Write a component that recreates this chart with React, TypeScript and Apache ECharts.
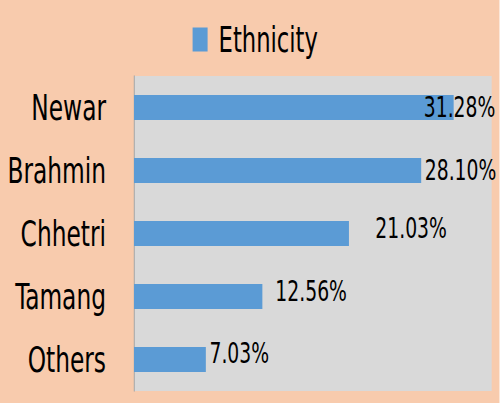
import React, { useEffect, useRef } from "react";
import * as echarts from "echarts";

const categories = ["Newar", "Brahmin", "Chhetri", "Tamang", "Others"];
const values = [31.28, 28.1, 21.03, 12.56, 7.03];
const seriesName = "Ethnicity";

// Narrow the whole drawing horizontally so the condensed look of the text matches.
const SX = 0.72;
const W = 500 / SX;
const H = 403;
const px = (x: number) => x / SX;

const labelOffsets: [number, number][] = [
  [px(-33.5), 0],
  [0, 0],
  [px(22.8), -5],
  [px(9.4), -5],
  [0, -6],
];

const FONT = "'DejaVu Sans Condensed', 'DejaVu Sans', sans-serif";

export default function App() {
  const ref = useRef<HTMLDivElement>(null);
  useEffect(() => {
    if (!ref.current) return;
    const chart = echarts.init(ref.current, undefined, { renderer: "svg" });
    chart.setOption({
      animation: false,
      backgroundColor: "#F8CBAD",
      legend: {
        data: [{ name: seriesName, icon: "rect" }],
        top: 17,
        left: px(189),
        itemWidth: px(15),
        itemHeight: 24,
        itemStyle: { borderWidth: 0 },
        textStyle: {
          fontFamily: FONT,
          fontSize: 35,
          color: "#000",
          padding: [0, 0, 0, px(11) - 5],
        },
      },
      grid: {
        left: px(134),
        right: px(8),
        top: 76,
        bottom: 12,
        show: true,
        backgroundColor: "#D9D9D9",
        borderWidth: 0,
        outerBoundsMode: "none",
        containLabel: false,
      },
      xAxis: {
        type: "value",
        min: 0,
        max: 35,
        show: false,
        splitLine: { show: false },
      },
      yAxis: {
        type: "category",
        inverse: true,
        data: categories,
        axisLine: { show: true, lineStyle: { color: "#A6A6A6", width: 1.4 } },
        axisTick: { show: false },
        axisLabel: {
          margin: px(28),
          fontFamily: FONT,
          fontSize: 36,
          color: "#000",
        },
      },
      series: [
        {
          name: seriesName,
          type: "bar",
          barCategoryGap: "60%",
          itemStyle: { color: "#5B9BD5" },
          data: values.map((v, i) => ({
            value: v,
            label: { offset: labelOffsets[i] },
          })),
          label: {
            show: true,
            position: "right",
            distance: 5,
            fontFamily: FONT,
            fontSize: 29,
            color: "#000",
            formatter: (p: any) => Number(p.value).toFixed(2) + "%",
          },
        },
      ],
    });
    return () => chart.dispose();
  }, []);
  return (
    <div style={{ position: "absolute", left: 0, top: 0, width: 500, height: H, overflow: "hidden" }}>
      <div
        ref={ref}
        style={{
          width: W,
          height: H,
          transform: `scaleX(${SX})`,
          transformOrigin: "0 0",
        }}
      />
    </div>
  );
}
